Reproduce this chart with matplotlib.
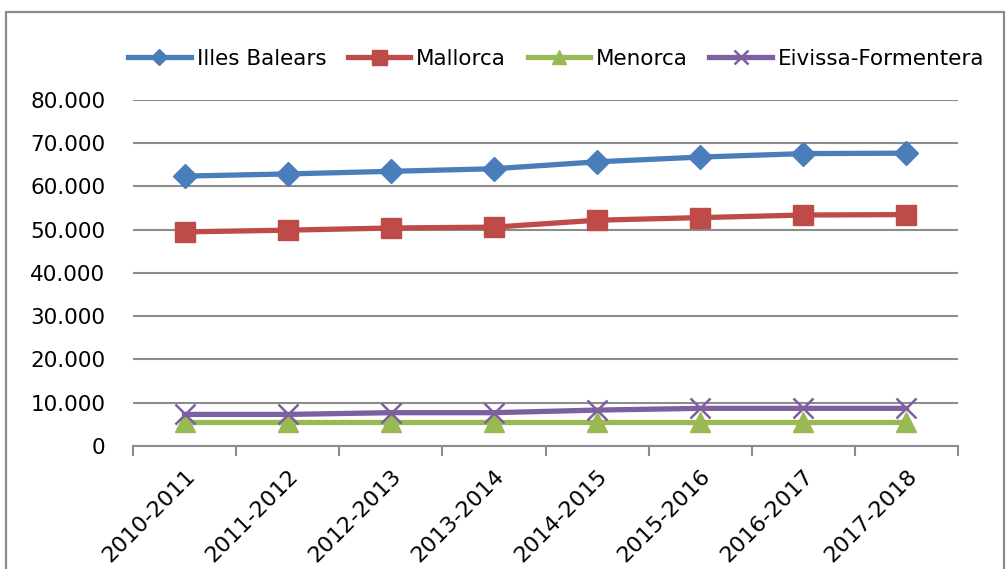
import matplotlib.pyplot as plt
from matplotlib.patches import Rectangle
from matplotlib.ticker import FuncFormatter, MultipleLocator

# --- data ---
seasons = ["2010-2011", "2011-2012", "2012-2013", "2013-2014",
           "2014-2015", "2015-2016", "2016-2017", "2017-2018"]
illes_balears = [62400, 62900, 63500, 64100, 65700, 66800, 67600, 67700]
mallorca = [49500, 49900, 50400, 50600, 52200, 52800, 53400, 53500]
menorca = [5600, 5600, 5600, 5600, 5600, 5600, 5600, 5600]
eivissa_formentera = [7300, 7300, 7700, 7700, 8300, 8700, 8700, 8700]

_BLUE = "#4a7ebb"
_RED = "#be4b48"
_GREEN = "#98b954"
_PURPLE = "#7d60a0"
_GRID = "#8c8c8c"

plt.rcParams["font.family"] = ["DejaVu Sans"]

fig = plt.figure(figsize=(10.06, 5.69), dpi=100)
ax = fig.add_axes([0.1322, 0.2162, 0.8201, 0.6081])

x = list(range(len(seasons)))
series = [
    ("Illes Balears", illes_balears, _BLUE, "D", 12, {}),
    ("Mallorca", mallorca, _RED, "s", 15, {}),
    ("Menorca", menorca, _GREEN, "^", 14, {}),
    ("Eivissa-Formentera", eivissa_formentera, _PURPLE, "x", 14, {"markeredgewidth": 1.8}),
]
handles = []
for label, vals, color, marker, ms, extra in series:
    (h,) = ax.plot(x, vals, color=color, linewidth=3.8, marker=marker,
                   markersize=ms, markerfacecolor=color, markeredgecolor=color,
                   label=label, zorder=3, **extra)
    handles.append(h)

ax.set_xlim(-0.5, len(seasons) - 0.5)
ax.set_ylim(0, 80000)
ax.yaxis.set_major_locator(MultipleLocator(10000))
ax.yaxis.set_major_formatter(FuncFormatter(lambda v, _: f"{int(v):,}".replace(",", ".")))
ax.grid(axis="y", color=_GRID, linewidth=1.5, zorder=0)
ax.set_axisbelow(True)

for side in ["top", "right", "left"]:
    ax.spines[side].set_visible(False)
ax.spines["bottom"].set_color(_GRID)
ax.spines["bottom"].set_linewidth(1.5)

# category ticks sit between categories, labels in the middle
ax.set_xticks([i - 0.5 for i in range(len(seasons) + 1)])
ax.set_xticklabels([])
ax.set_xticks(x, minor=True)
ax.set_xticklabels(seasons, minor=True, rotation=45, ha="right", va="top",
                   rotation_mode="anchor", fontsize=16)
ax.tick_params(axis="x", which="major", length=7, width=1.5, color=_GRID)
ax.tick_params(axis="x", which="minor", length=0, pad=14)
ax.tick_params(axis="y", length=0, labelsize=15.5, pad=20)

ax.legend(handles=handles, loc="lower center", bbox_to_anchor=(0.513, 1.065), ncol=4,
          frameon=False, fontsize=15.5, handlelength=2.9, handletextpad=0.28,
          columnspacing=1.0, borderaxespad=0, markerscale=0.72)

# chart-area border
fig.patches.append(Rectangle((6 / 1006, -0.1), 998 / 1006, 1 - 12 / 569 + 0.1,
                             transform=fig.transFigure, fill=False,
                             edgecolor="#8c8c8c", linewidth=1.6))

fig.savefig("out.png", dpi=100)
